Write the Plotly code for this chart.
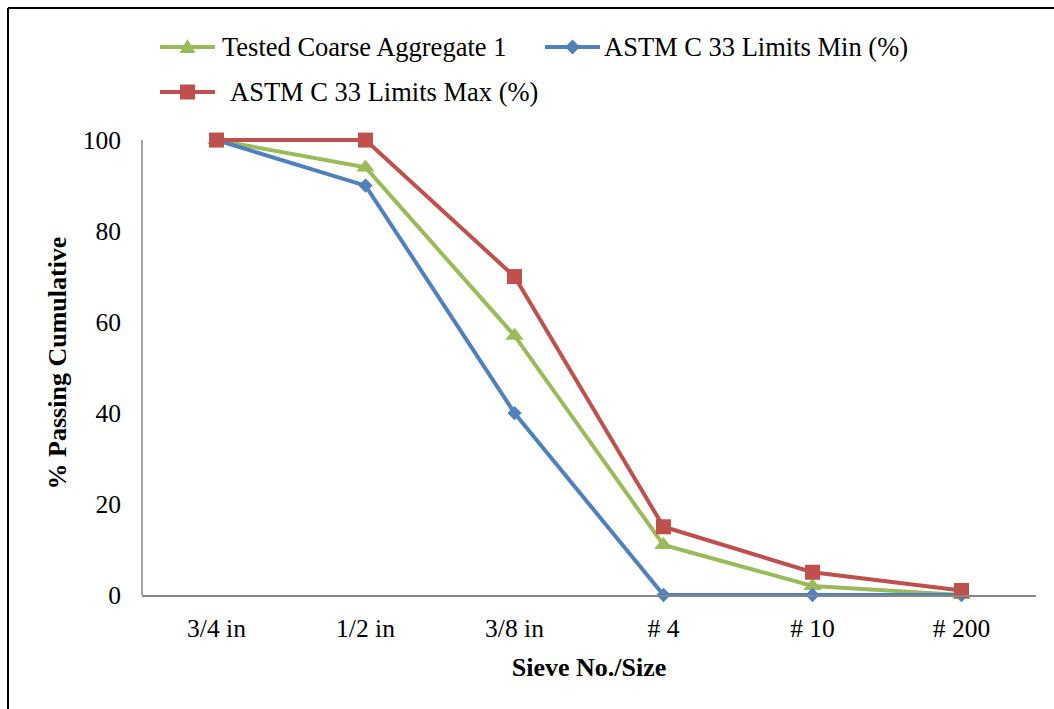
import plotly.graph_objects as go

# Sieve sizes and cumulative % passing
sieves = ["3/4 in", "1/2 in", "3/8 in", "# 4", "# 10", "# 200"]
tested = [100, 94, 57, 11, 2, 0]
astm_min = [100, 90, 40, 0, 0, 0]
astm_max = [100, 100, 70, 15, 5, 1]
y_ticks = [0, 20, 40, 60, 80, 100]

GREEN = "#9BBB59"
BLUE = "#4F81BD"
RED = "#C0504D"
AXIS = "#868686"
FONT = "Liberation Serif, serif"

W, H = 1054, 709
# a little headroom above 100 so the top line is not clipped
Y_MAX = 102
L, R, T, B = 142, 18, 131, 114
PW, PH = W - L - R, H - T - B


def px(x):
    return (x - L) / PW


def py(y):
    return (H - B - y) / PH


series = [
    ("Tested Coarse Aggregate 1", tested, GREEN, "triangle-up", 16),
    ("ASTM C 33 Limits Min (%)", astm_min, BLUE, "diamond", 11),
    ("ASTM C 33 Limits Max (%)", astm_max, RED, "square", 15),
]

fig = go.Figure()
for name, vals, color, sym, size in series:
    fig.add_trace(go.Scatter(
        x=sieves, y=vals, name=name, mode="lines+markers",
        line=dict(color=color, width=4),
        marker=dict(symbol=sym, size=size, color=color),
        showlegend=False, cliponaxis=False,
    ))

shapes = []
annotations = []

# value axis line, from 0 to 100 only
shapes.append(dict(type="line", xref="paper", yref="y",
                   x0=0, x1=0, y0=0, y1=100,
                   line=dict(color=AXIS, width=1.5), layer="below"))

# outer frame (top and left edges)
shapes.append(dict(type="line", xref="paper", yref="paper",
                   x0=px(8), x1=px(W + 5), y0=py(8), y1=py(8),
                   line=dict(color="black", width=2)))
shapes.append(dict(type="line", xref="paper", yref="paper",
                   x0=px(8), x1=px(8), y0=py(8), y1=py(H + 5),
                   line=dict(color="black", width=2)))

# hand-placed legend: line segment + marker + label
legend_items = [
    (series[0], 160, 215, 47, 220),
    (series[1], 545, 600, 47, 602),
    (series[2], 160, 215, 92, 228),
]
for (name, _, color, sym, _), x0, x1, yc, tx in legend_items:
    shapes.append(dict(type="line", xref="paper", yref="paper",
                       x0=px(x0), x1=px(x1), y0=py(yc), y1=py(yc),
                       line=dict(color=color, width=4)))
    cx = (x0 + x1) / 2
    if sym == "square":
        shapes.append(dict(type="rect", xref="paper", yref="paper",
                           x0=px(cx - 7.5), x1=px(cx + 7.5),
                           y0=py(yc + 7.5), y1=py(yc - 7.5),
                           fillcolor=color, line=dict(width=0)))
    elif sym == "diamond":
        path = "M {} {} L {} {} L {} {} L {} {} Z".format(
            px(cx), py(yc - 7.5), px(cx + 7.5), py(yc), px(cx), py(yc + 7.5), px(cx - 7.5), py(yc))
        shapes.append(dict(type="path", xref="paper", yref="paper", path=path,
                           fillcolor=color, line=dict(width=0)))
    else:
        path = "M {} {} L {} {} L {} {} Z".format(
            px(cx), py(yc - 8), px(cx + 8), py(yc + 6), px(cx - 8), py(yc + 6))
        shapes.append(dict(type="path", xref="paper", yref="paper", path=path,
                           fillcolor=color, line=dict(width=0)))
    annotations.append(dict(xref="paper", yref="paper", x=px(tx), y=py(yc),
                            xanchor="left", yanchor="middle", showarrow=False,
                            text=name, font=dict(family=FONT, size=26.5, color="black")))

fig.update_layout(
    width=W, height=H,
    margin=dict(l=L, r=R, t=T, b=B),
    paper_bgcolor="white", plot_bgcolor="white",
    font=dict(family=FONT, color="black"),
    shapes=shapes, annotations=annotations,
    xaxis=dict(
        type="category", categoryorder="array", categoryarray=sieves,
        range=[-0.5, 5.5], showgrid=False, zeroline=False,
        showline=True, linecolor=AXIS, linewidth=1.5,
        ticks="", tickfont=dict(family=FONT, size=25.5, color="black"),
        ticklabelstandoff=10,
        title=dict(text="<b>Sieve No./Size</b>", font=dict(family=FONT, size=26, color="black"),
                   standoff=15),
    ),
    yaxis=dict(
        range=[0, Y_MAX], tickvals=y_ticks, showgrid=False, zeroline=False,
        showline=False,
        ticks="", tickfont=dict(family=FONT, size=25.5, color="black"),
        ticklabelstandoff=20,
        title=dict(text="<b>% Passing Cumulative</b>", font=dict(family=FONT, size=26, color="black"),
                   standoff=8),
    ),
)

fig.write_html("out.html")
